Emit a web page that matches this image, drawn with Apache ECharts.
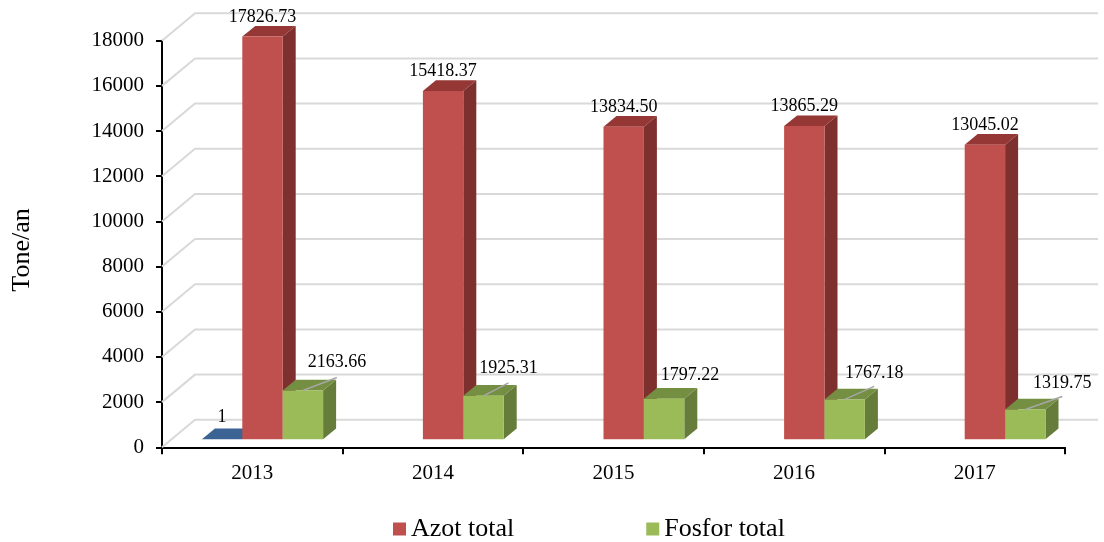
<!DOCTYPE html>
<html>
<head>
<meta charset="utf-8">
<style>
  html, body { margin: 0; padding: 0; background: #fff; }
  #chart { width: 1104px; height: 542px; }
</style>
<script src="https://cdn.jsdelivr.net/npm/echarts@6/dist/echarts.min.js"></script>
</head>
<body>
<div id="chart"></div>
<script>
const categories = ['2013', '2014', '2015', '2016', '2017']
const unnamedValues = [1, null, null, null, null]
const azotValues = [17826.73, 15418.37, 13834.5, 13865.29, 13045.02]
const fosforValues = [2163.66, 1925.31, 1797.22, 1767.18, 1319.75]
const yTicks = [0, 2000, 4000, 6000, 8000, 10000, 12000, 14000, 16000, 18000]

// where the fosfor labels were dragged to in the original, relative to the bar top
const fosforLabelNudge = [[34, -28], [25, -28], [26, -23], [29.5, -26], [37, -26]]
const fosforHasLeader = [true, true, false, true, true]

const FONT = '"Liberation Serif", "Times New Roman", serif'

// fake 3D: how far the back wall and the bars sit from the front plane
const WALL_DX = 33
const WALL_DY = 27.5
const BAR_DX = 10.2
const BAR_DY = 8
const SIDE_DX = 13
const SIDE_DY = 10.7
const BAR_BAND = 0.2237

function wallItem(params, api) {
  const box = params.coordSys
  const y = api.coord([0, api.value(0)])[1]
  return {
    type: 'polyline',
    silent: true,
    shape: {
      points: [
        [box.x, y],
        [box.x + WALL_DX, y - WALL_DY],
        [box.x + box.width + WALL_DX, y - WALL_DY]
      ]
    },
    style: { fill: null, stroke: '#d9d9d9', lineWidth: 2 }
  }
}

function barItem(slot, colors, labelFor) {
  return function (params, api) {
    const idx = api.value(0)
    const val = api.value(1)
    if (isNaN(val)) return
    const top = api.coord([idx, val])
    const base = api.coord([idx, 0])
    const w = api.size([1, 0])[0] * BAR_BAND
    const x0 = top[0] + BAR_DX + (slot - 1.5) * w
    const x1 = x0 + w
    const yT = top[1] - BAR_DY
    const yB = base[1] - BAR_DY
    const children = [
      {
        type: 'polygon',
        shape: { points: [[x1, yT], [x1 + SIDE_DX, yT - SIDE_DY], [x1 + SIDE_DX, yB - SIDE_DY], [x1, yB]] },
        style: { fill: colors.side }
      },
      {
        type: 'polygon',
        shape: { points: [[x0, yT], [x0 + SIDE_DX, yT - SIDE_DY], [x1 + SIDE_DX, yT - SIDE_DY], [x1, yT]] },
        style: { fill: colors.top }
      },
      {
        type: 'rect',
        shape: { x: x0, y: yT, width: w, height: yB - yT },
        style: { fill: colors.front }
      }
    ]
    labelFor(children, params.dataIndex, (x0 + x1) / 2, yT, val)
    return { type: 'group', children: children }
  }
}

function labelText(text, x, y) {
  return {
    type: 'text',
    z2: 20,
    style: { text: text, x: x, y: y, align: 'center', verticalAlign: 'middle', fill: '#000', font: '18px ' + FONT }
  }
}

const option = {
  backgroundColor: '#fff',
  animation: false,
  textStyle: { fontFamily: FONT },
  grid: { left: 162, right: 39, top: 40.7, bottom: 94.7 },
  legend: {
    data: ['Azot total', 'Fosfor total'],
    icon: 'rect',
    left: 393,
    top: 516,
    padding: 0,
    itemWidth: 13,
    itemHeight: 13,
    itemGap: 132,
    textStyle: { fontFamily: FONT, fontSize: 26, color: '#000' }
  },
  xAxis: {
    type: 'category',
    data: categories,
    axisLine: { lineStyle: { color: '#000', width: 2 } },
    axisTick: { show: true, alignWithLabel: false, length: 7, lineStyle: { color: '#000', width: 2 } },
    axisLabel: { color: '#000', fontSize: 21, fontFamily: FONT, margin: 16 }
  },
  yAxis: {
    type: 'value',
    min: 0,
    max: 18000,
    interval: 2000,
    name: 'Tone/an',
    nameLocation: 'middle',
    nameGap: 127,
    nameRotate: 90,
    nameTextStyle: { color: '#000', fontSize: 26, fontFamily: FONT, padding: [0, 12, 0, 0] },
    axisLine: { show: true, lineStyle: { color: '#000', width: 2 } },
    axisTick: { show: true, length: 6, lineStyle: { color: '#000', width: 2 } },
    axisLabel: { color: '#000', fontSize: 21, fontFamily: FONT, margin: 18, formatter: v => String(v) },
    splitLine: { show: false }
  },
  series: [
    {
      type: 'custom',
      name: 'walls',
      silent: true,
      z: 1,
      clip: false,
      renderItem: wallItem,
      encode: { y: 0 },
      data: yTicks.map(t => [t])
    },
    {
      type: 'custom',
      name: 'Series1',
      z: 2,
      clip: false,
      itemStyle: { color: '#4f81bd' },
      renderItem: barItem(0, { front: '#4f81bd', side: '#2f4f75', top: '#3b6494' }, (out, i, cx, y, v) => {
        out.push(labelText(String(v), cx, y - 22))
      }),
      data: unnamedValues.map((v, i) => [i, v])
    },
    {
      type: 'custom',
      name: 'Azot total',
      z: 3,
      clip: false,
      itemStyle: { color: '#c0504d' },
      renderItem: barItem(1, { front: '#c0504d', side: '#7d302e', top: '#953735' }, (out, i, cx, y, v) => {
        out.push(labelText(v.toFixed(2), cx, y - 19.5))
      }),
      data: azotValues.map((v, i) => [i, v])
    },
    {
      type: 'custom',
      name: 'Fosfor total',
      z: 4,
      clip: false,
      itemStyle: { color: '#9bbb59' },
      renderItem: barItem(2, { front: '#9bbb59', side: '#667c3a', top: '#748f42' }, (out, i, cx, y, v) => {
        const n = fosforLabelNudge[i]
        if (fosforHasLeader[i]) {
          out.push({
            type: 'line',
            shape: { x1: cx, y1: y, x2: cx + n[0], y2: y - 13 },
            style: { stroke: '#a6a6a6', lineWidth: 1.5 }
          })
        }
        out.push(labelText(v.toFixed(2), cx + n[0], y + n[1]))
      }),
      data: fosforValues.map((v, i) => [i, v])
    }
  ]
}

const chart = echarts.init(document.getElementById('chart'))
chart.setOption(option)
window.addEventListener('resize', () => chart.resize())
</script>
</body>
</html>
